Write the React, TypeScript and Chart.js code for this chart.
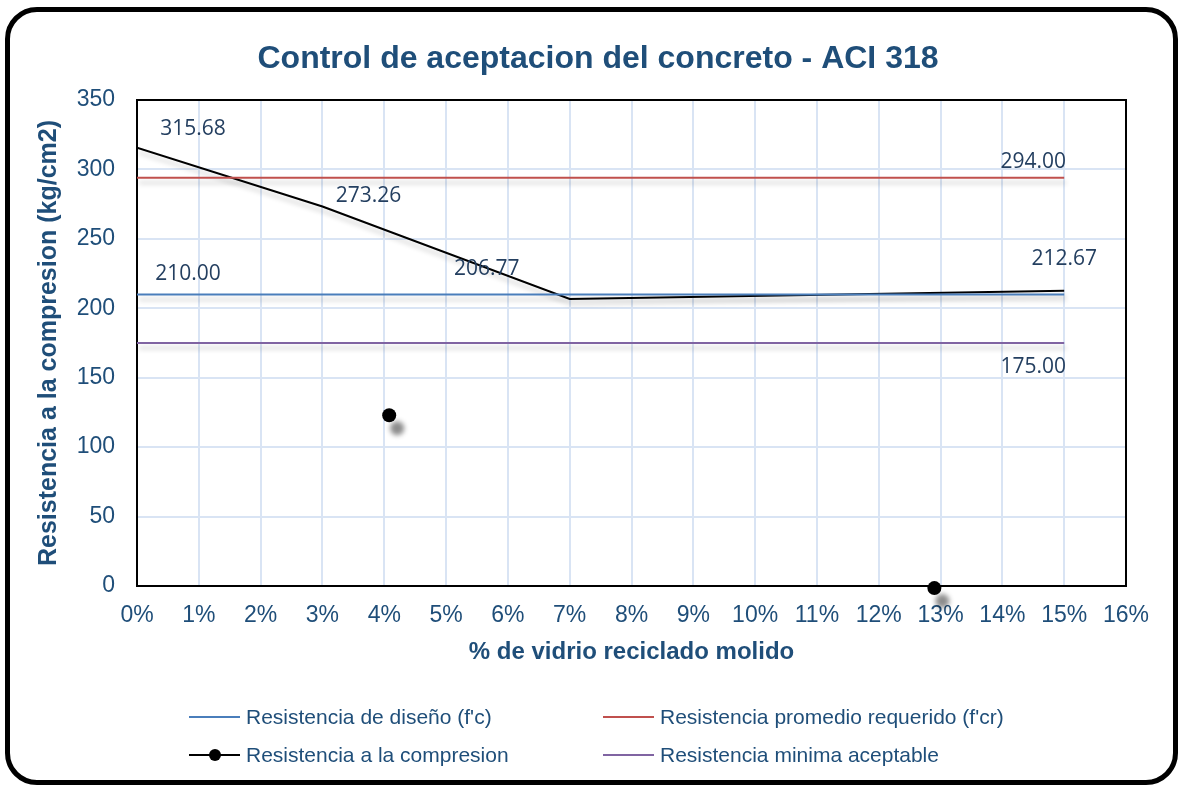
import React, { useEffect, useRef } from "react";
import { Chart, registerables } from "chart.js";

Chart.register(...registerables);

// ---- data ----
const xAxisMax = 16;
const yAxisMax = 350;
const lineXRange = [0, 15];
const designStrength = 210; // f'c
const requiredStrength = 294; // f'cr
const minimumStrength = 175;
const glassPercent = [0, 3, 7, 15];
const compressiveStrength = [315.68, 273.26, 206.77, 212.67];
const strayMarkerX = [4.08, 12.9];
const strayMarkerY = [123, -1.5];
const seriesLabels = [
  "Resistencia de diseño (f'c)",
  "Resistencia promedio requerido (f'cr)",
  "Resistencia a la compresion",
  "Resistencia minima aceptable",
];
const titleText = "Control de aceptacion del concreto - ACI 318";
const xTitle = "% de vidrio reciclado molido";
const yTitle = "Resistencia a la compresion (kg/cm2)";

const TEXT_BLUE = "#1F4E79";
const LABEL_BLUE = "#243F60";
const C_BLUE = "#4A7EBB";
const C_RED = "#C0504D";
const C_PURPLE = "#8064A2";

// data label placement (dataset index, point index, offset)
const labelSpecs = [
  { ds: 2, i: 0, dx: 56, dy: -19 },
  { ds: 2, i: 1, dx: 46, dy: -11 },
  { ds: 2, i: 2, dx: -83, dy: -30 },
  { ds: 2, i: 3, dx: 0, dy: -32 },
  { ds: 0, i: 0, dx: 51, dy: -20 },
  { ds: 1, i: 1, dx: -31, dy: -16 },
  { ds: 3, i: 1, dx: -31, dy: 24 },
];

const shadowPlugin = {
  id: "shadowPlugin",
  beforeDatasetDraw(chart: any, args: any) {
    const ctx = chart.ctx;
    ctx.save();
    if (args.index === 4) {
      ctx.shadowColor = "rgba(0,0,0,0.45)";
      ctx.shadowBlur = 5;
      ctx.shadowOffsetX = 8;
      ctx.shadowOffsetY = 13;
    } else {
      ctx.shadowColor = "rgba(0,0,0,0.22)";
      ctx.shadowBlur = 5;
      ctx.shadowOffsetX = 2;
      ctx.shadowOffsetY = 5;
    }
  },
  afterDatasetDraw(chart: any) {
    chart.ctx.restore();
  },
};

const framePlugin = {
  id: "framePlugin",
  beforeDatasetsDraw(chart: any) {
    const { ctx, chartArea: a } = chart;
    ctx.save();
    ctx.strokeStyle = "#000";
    ctx.lineWidth = 2;
    ctx.strokeRect(a.left, a.top, a.right - a.left, a.bottom - a.top);
    ctx.restore();
  },
};

const labelsPlugin = {
  id: "labelsPlugin",
  afterDatasetsDraw(chart: any) {
    const ctx = chart.ctx;
    ctx.save();
    ctx.font = '21px "Open Sans"';
    ctx.fillStyle = LABEL_BLUE;
    ctx.textAlign = "center";
    ctx.textBaseline = "middle";
    for (const s of labelSpecs) {
      const el = chart.getDatasetMeta(s.ds).data[s.i];
      const v = chart.data.datasets[s.ds].data[s.i].y;
      ctx.fillText(v.toFixed(2), el.x + s.dx, el.y + s.dy);
    }
    ctx.restore();
  },
};

const decorPlugin = {
  id: "decorPlugin",
  afterDraw(chart: any) {
    const ctx = chart.ctx;
    ctx.save();
    // title
    ctx.font = 'bold 32px "Liberation Sans"';
    ctx.fillStyle = TEXT_BLUE;
    ctx.textAlign = "center";
    ctx.textBaseline = "middle";
    ctx.fillText(titleText, 598, 59);
    // legend
    const items = [
      { col: 0, row: 0, ds: 0 },
      { col: 1, row: 0, ds: 1 },
      { col: 0, row: 1, ds: 2 },
      { col: 1, row: 1, ds: 3 },
    ];
    const colX = [189, 603];
    const rowY = [717, 755];
    ctx.font = '21px "Liberation Sans"';
    ctx.textAlign = "left";
    for (const it of items) {
      const d = chart.data.datasets[it.ds];
      const x = colX[it.col];
      const y = rowY[it.row];
      ctx.strokeStyle = d.borderColor;
      ctx.lineWidth = 2;
      ctx.beginPath();
      ctx.moveTo(x, y);
      ctx.lineTo(x + 51, y);
      ctx.stroke();
      if (it.ds === 2) {
        ctx.fillStyle = "#000";
        ctx.beginPath();
        ctx.arc(x + 26, y, 6, 0, Math.PI * 2);
        ctx.fill();
      }
      ctx.fillStyle = TEXT_BLUE;
      ctx.fillText(d.label, x + 57, y + 1);
    }
    ctx.restore();
  },
};

export default function App() {
  const ref = useRef<HTMLCanvasElement>(null);
  useEffect(() => {
    const hline = (v: number) => lineXRange.map((x) => ({ x, y: v }));
    const chart = new Chart(ref.current as HTMLCanvasElement, {
      type: "scatter",
      data: {
        datasets: [
          {
            label: seriesLabels[0],
            data: hline(designStrength),
            showLine: true,
            borderColor: C_BLUE,
            backgroundColor: C_BLUE,
            borderWidth: 2,
            pointRadius: 0,
          },
          {
            label: seriesLabels[1],
            data: hline(requiredStrength),
            showLine: true,
            borderColor: C_RED,
            backgroundColor: C_RED,
            borderWidth: 2,
            pointRadius: 0,
          },
          {
            label: seriesLabels[2],
            data: glassPercent.map((x, i) => ({ x, y: compressiveStrength[i] })),
            showLine: true,
            borderColor: "#000",
            backgroundColor: "#000",
            borderWidth: 2,
            pointRadius: 0,
          },
          {
            label: seriesLabels[3],
            data: hline(minimumStrength),
            showLine: true,
            borderColor: C_PURPLE,
            backgroundColor: C_PURPLE,
            borderWidth: 2,
            pointRadius: 0,
          },
          {
            label: "",
            data: strayMarkerX.map((x, i) => ({ x, y: strayMarkerY[i] })),
            showLine: false,
            borderColor: "#000",
            backgroundColor: "#000",
            pointRadius: 7,
            pointBorderWidth: 0,
            clip: false as any,
          },
        ],
      },
      options: {
        responsive: false,
        animation: false,
        events: [],
        layout: { padding: { left: 0, top: 100, right: 54, bottom: 109 } },
        plugins: {
          legend: { display: false },
          title: { display: false },
          tooltip: { enabled: false },
        },
        scales: {
          x: {
            type: "linear",
            min: 0,
            max: xAxisMax,
            afterFit: (s: any) => {
              s.height = 90;
            },
            ticks: {
              stepSize: 1,
              padding: 16,
              color: TEXT_BLUE,
              font: { family: '"Liberation Sans"', size: 23 },
              callback: (v: any) => v + "%",
            },
            grid: { color: "#D9E4F4", lineWidth: 2, drawTicks: false },
            border: { display: false },
            title: {
              display: true,
              text: xTitle,
              color: TEXT_BLUE,
              font: { family: '"Liberation Sans"', size: 24, weight: "bold" },
              padding: { top: 0, bottom: 9 },
            },
          },
          y: {
            type: "linear",
            min: 0,
            max: yAxisMax,
            afterFit: (s: any) => {
              s.width = 137;
            },
            ticks: {
              stepSize: 50,
              padding: 22,
              color: TEXT_BLUE,
              font: { family: '"Liberation Sans"', size: 23 },
            },
            grid: { color: "#D9E4F4", lineWidth: 2, drawTicks: false },
            border: { display: false },
            title: {
              display: true,
              text: yTitle,
              color: TEXT_BLUE,
              font: { family: '"Liberation Sans"', size: 25, weight: "bold" },
              padding: { top: 34, bottom: 0 },
            },
          },
        },
      },
      plugins: [shadowPlugin, framePlugin, labelsPlugin, decorPlugin],
    } as any);
    return () => chart.destroy();
  }, []);

  return (
    <div
      style={{
        position: "absolute",
        left: 0,
        top: 0,
        width: 1180,
        height: 785,
        background: "#fff",
        overflow: "hidden",
      }}
    >
      <div
        style={{
          position: "absolute",
          left: 5,
          top: 7,
          width: 1173,
          height: 778,
          border: "5px solid #000",
          borderRadius: 32,
          boxSizing: "border-box",
        }}
      />
      <canvas
        ref={ref}
        width={1180}
        height={785}
        style={{ position: "absolute", left: 0, top: 0 }}
      />
    </div>
  );
}
